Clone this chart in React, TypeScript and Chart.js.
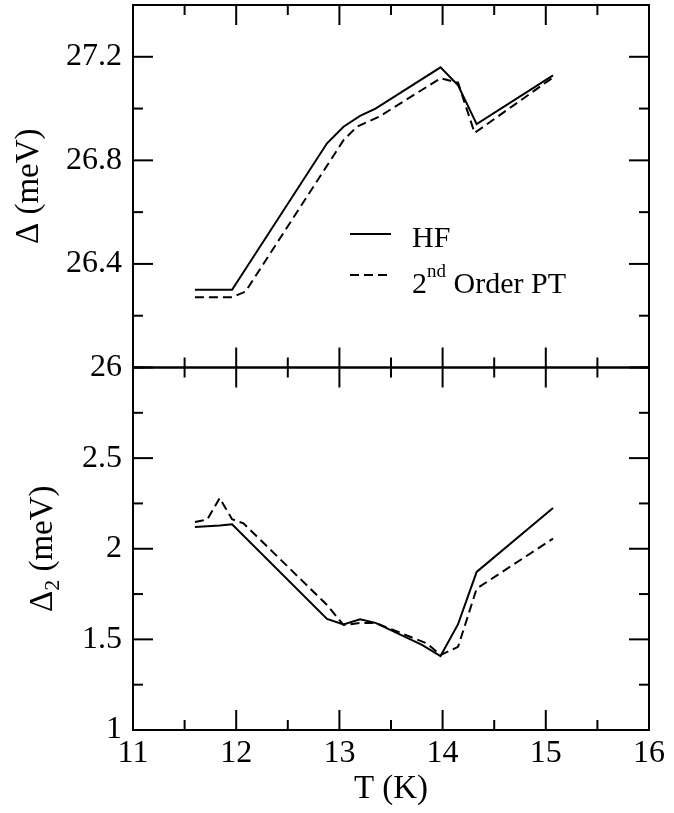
import React, { useEffect, useRef } from 'react';
import { Chart, registerables } from 'chart.js';

Chart.register(...registerables);

// ---- data ----
const T_TOP_HF = [11.6, 11.96, 12.88, 13.04, 13.2, 13.35, 13.98, 14.15, 14.33, 15.07];
const GAP_HF = [26.3, 26.3, 26.866, 26.93, 26.972, 27.0, 27.159, 27.09, 26.94, 27.128];
const T_TOP_PT = [11.6, 11.96, 12.09, 13.04, 13.17, 13.39, 13.98, 14.15, 14.31, 15.07];
const GAP_PT = [26.271, 26.271, 26.293, 26.878, 26.93, 26.97, 27.117, 27.1, 26.906, 27.12];

const T_BOT_HF = [11.6, 11.84, 11.96, 12.88, 13.04, 13.2, 13.35, 13.8, 13.98, 14.15, 14.33, 15.07];
const GAP2_HF = [2.12, 2.128, 2.135, 1.613, 1.583, 1.611, 1.591, 1.47, 1.408, 1.584, 1.872, 2.225];
const T_BOT_PT = [11.6, 11.72, 11.84, 11.96, 12.07, 12.88, 13.04, 13.2, 13.35, 13.85, 13.98, 14.15, 14.33, 15.07];
const GAP2_PT = [2.148, 2.161, 2.28, 2.163, 2.14, 1.69, 1.579, 1.591, 1.591, 1.477, 1.413, 1.459, 1.78, 2.056];

const X_TICKS = [11, 12, 13, 14, 15, 16];
const X_MINOR = [11.5, 12.5, 13.5, 14.5, 15.5];
const TOP_TICKS = [26, 26.4, 26.8, 27.2];
const TOP_MINOR = [26.2, 26.6, 27.0];
const BOT_TICKS = [1, 1.5, 2, 2.5];
const BOT_MINOR = [1.25, 1.75, 2.25, 2.75, 3];

const X_TITLE = 'T (K)';
const TOP_TITLE = 'Δ (meV)';
const BOT_TITLE_MAIN = 'Δ';
const BOT_TITLE_SUB = '2';
const BOT_TITLE_REST = ' (meV)';
const LEGEND_HF = 'HF';
const LEGEND_PT_A = '2';
const LEGEND_PT_SUP = 'nd';
const LEGEND_PT_B = ' Order PT';

const FONT = '"Liberation Serif", "Times New Roman", serif';

const pts = (xs: number[], ys: number[]) => xs.map((x, i) => ({ x, y: ys[i] }));

const framePlugin = {
  id: 'frame',
  afterDraw(chart: any) {
    const ctx = chart.ctx as CanvasRenderingContext2D;
    const xs = chart.scales.x;
    const yT = chart.scales.yTop;
    const yB = chart.scales.yBot;
    const L = chart.chartArea.left;
    const R = chart.chartArea.right;
    ctx.save();
    ctx.strokeStyle = '#000';
    ctx.fillStyle = '#000';
    ctx.lineWidth = 2;
    ctx.setLineDash([]);
    const line = (x1: number, y1: number, x2: number, y2: number) => {
      ctx.beginPath();
      ctx.moveTo(x1, y1);
      ctx.lineTo(x2, y2);
      ctx.stroke();
    };
    const panels = [
      [yT, TOP_TICKS, TOP_MINOR],
      [yB, BOT_TICKS, BOT_MINOR],
    ] as any[];
    for (const [s, major, minor] of panels) {
      const top = s.top;
      const bot = s.bottom;
      ctx.strokeRect(L, top, R - L, bot - top);
      for (const v of X_TICKS) {
        const p = xs.getPixelForValue(v);
        line(p, bot, p, bot - 20);
        line(p, top, p, top + 20);
      }
      for (const v of X_MINOR) {
        const p = xs.getPixelForValue(v);
        line(p, bot, p, bot - 10);
        line(p, top, p, top + 10);
      }
      for (const v of major) {
        const p = s.getPixelForValue(v);
        line(L, p, L + 20, p);
        line(R, p, R - 20, p);
      }
      for (const v of minor) {
        const p = s.getPixelForValue(v);
        line(L, p, L + 10, p);
        line(R, p, R - 10, p);
      }
    }

    // axis titles
    ctx.font = `33px ${FONT}`;
    ctx.textAlign = 'center';
    ctx.textBaseline = 'alphabetic';
    ctx.fillText(X_TITLE, (L + R) / 2, 798);

    ctx.save();
    ctx.translate(38, (yT.top + yT.bottom) / 2);
    ctx.rotate(-Math.PI / 2);
    ctx.fillText(TOP_TITLE, 0, 0);
    ctx.restore();

    ctx.save();
    ctx.translate(52, (yB.top + yB.bottom) / 2);
    ctx.rotate(-Math.PI / 2);
    ctx.textAlign = 'left';
    ctx.font = `33px ${FONT}`;
    const wA = ctx.measureText(BOT_TITLE_MAIN).width;
    const wC = ctx.measureText(BOT_TITLE_REST).width;
    ctx.font = `22px ${FONT}`;
    const wB = ctx.measureText(BOT_TITLE_SUB).width;
    const x0 = -(wA + wB + wC) / 2;
    ctx.font = `33px ${FONT}`;
    ctx.fillText(BOT_TITLE_MAIN, x0, 0);
    ctx.font = `22px ${FONT}`;
    ctx.fillText(BOT_TITLE_SUB, x0 + wA, 7);
    ctx.font = `33px ${FONT}`;
    ctx.fillText(BOT_TITLE_REST, x0 + wA + wB, 0);
    ctx.restore();

    // legend
    ctx.lineWidth = 2;
    line(350, 234, 391, 234);
    ctx.setLineDash([9, 5]);
    line(350, 275, 391, 275);
    ctx.setLineDash([]);
    ctx.textAlign = 'left';
    ctx.font = `30px ${FONT}`;
    ctx.fillText(LEGEND_HF, 412, 247);
    ctx.fillText(LEGEND_PT_A, 412, 293);
    const w2 = ctx.measureText(LEGEND_PT_A).width;
    ctx.font = `19px ${FONT}`;
    ctx.fillText(LEGEND_PT_SUP, 412 + w2, 277);
    const wnd = ctx.measureText(LEGEND_PT_SUP).width;
    ctx.font = `30px ${FONT}`;
    ctx.fillText(LEGEND_PT_B, 412 + w2 + wnd, 293);
    ctx.restore();
  },
};

export default function App() {
  const ref = useRef<HTMLCanvasElement>(null);
  useEffect(() => {
    document.body.style.margin = '0';
    const tickFont = { family: FONT, size: 32 };
    const fitY = (s: any) => { s.width = 133; s.paddingTop = 0; s.paddingBottom = 0; };
    const chart = new Chart(ref.current as HTMLCanvasElement, {
      type: 'line',
      data: {
        datasets: [
          { label: 'HF', data: pts(T_TOP_HF, GAP_HF), yAxisID: 'yTop', borderColor: '#000', borderWidth: 2, pointRadius: 0, fill: false, tension: 0 },
          { label: 'PT', data: pts(T_TOP_PT, GAP_PT), yAxisID: 'yTop', borderColor: '#000', borderWidth: 2, borderDash: [9, 5], pointRadius: 0, fill: false, tension: 0 },
          { label: 'HF2', data: pts(T_BOT_HF, GAP2_HF), yAxisID: 'yBot', borderColor: '#000', borderWidth: 2, pointRadius: 0, fill: false, tension: 0 },
          { label: 'PT2', data: pts(T_BOT_PT, GAP2_PT), yAxisID: 'yBot', borderColor: '#000', borderWidth: 2, borderDash: [9, 5], pointRadius: 0, fill: false, tension: 0 },
        ],
      } as any,
      options: {
        responsive: false,
        animation: false,
        devicePixelRatio: 1,
        layout: { padding: { left: 0, top: 5, right: 25, bottom: 0 } },
        plugins: { legend: { display: false }, tooltip: { enabled: false } },
        scales: {
          x: {
            type: 'linear',
            position: 'bottom',
            min: 11,
            max: 16,
            afterBuildTicks: (s: any) => { s.ticks = X_TICKS.map((v) => ({ value: v })); },
            afterFit: (s: any) => { s.height = 83; },
            grid: { display: false, drawTicks: false },
            border: { display: false },
            ticks: { font: tickFont, color: '#000', padding: 4, maxRotation: 0, autoSkip: false, callback: (v: any) => String(v) },
          },
          yBot: {
            type: 'linear',
            position: 'left',
            stack: 'panels',
            stackWeight: 1,
            min: 1,
            max: 3,
            afterBuildTicks: (s: any) => { s.ticks = BOT_TICKS.map((v) => ({ value: v })); },
            afterFit: fitY,
            grid: { display: false, drawTicks: false },
            border: { display: false },
            ticks: { font: tickFont, color: '#000', padding: 11, autoSkip: false, callback: (v: any) => String(v) },
          },
          yTop: {
            type: 'linear',
            position: 'left',
            stack: 'panels',
            stackWeight: 1,
            min: 26,
            max: 27.4,
            afterBuildTicks: (s: any) => { s.ticks = TOP_TICKS.map((v) => ({ value: v })); },
            afterFit: fitY,
            grid: { display: false, drawTicks: false },
            border: { display: false },
            ticks: { font: tickFont, color: '#000', padding: 11, autoSkip: false, callback: (v: any) => String(v) },
          },
        } as any,
      },
      plugins: [framePlugin],
    });
    return () => chart.destroy();
  }, []);
  return <canvas ref={ref} width={674} height={813} style={{ display: 'block' }} />;
}
